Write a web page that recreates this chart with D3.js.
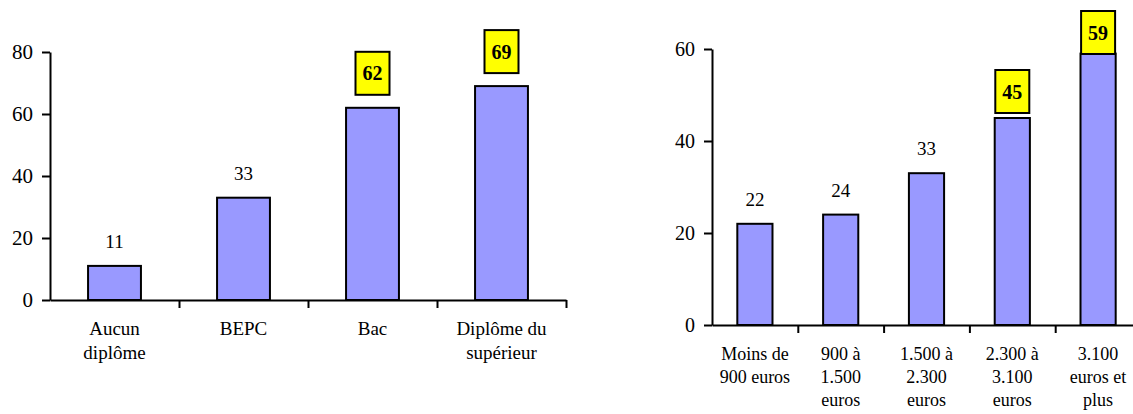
<!DOCTYPE html>
<html>
<head>
<meta charset="utf-8">
<script src="https://cdn.jsdelivr.net/npm/d3@7"></script>
<style>
  body { margin: 0; background: #fff; }
  svg { display: block; }
  svg text { font-family: "Times New Roman", "Liberation Serif", "DejaVu Serif", serif !important; fill: #000; }
  .axis path, .axis line { stroke: #000; stroke-width: 2px; }
</style>
</head>
<body>
<svg id="chart" width="1133" height="414"></svg>
<script>
// left panel : diplôme
var diplomaLabels = [["Aucun", "diplôme"], ["BEPC"], ["Bac"], ["Diplôme du", "supérieur"]];
var diplomaValues = [11, 33, 62, 69];
var diplomaHighlight = [false, false, true, true];
var diplomaTicks = [0, 20, 40, 60, 80];

// right panel : revenu
var incomeLabels = [["Moins de", "900 euros"], ["900 à", "1.500", "euros"], ["1.500 à", "2.300", "euros"], ["2.300 à", "3.100", "euros"], ["3.100", "euros et", "plus"]];
var incomeValues = [22, 24, 33, 45, 59];
var incomeHighlight = [false, false, false, true, true];
var incomeTicks = [0, 20, 40, 60];

var svg = d3.select('#chart');

function barPanel() {
  var
    left = 0, right = 0, top = 0, bottom = 0,
    yMax = 80,
    ticks = [],
    tickSize = 21,
    labelSize = 19,
    lineGap = 23.5,
    boxGap = 13,
    boxTop = 0;

  function chart(g, labels, values, hl) {
    var
      n = values.length,
      xEdge = d3.scaleLinear().domain([0, n]).range([left, right]),
      yScale = d3.scaleLinear().domain([0, yMax]).range([bottom, top]),
      band = xEdge(1) - xEdge(0),
      bw = band * 0.41;

    g.append('g')
      .attr('class', 'axis')
      .attr('transform', 'translate(' + left + ',0)')
      .call(d3.axisLeft(yScale).tickValues(ticks).tickSize(8).tickPadding(9).tickSizeOuter(0))
      .attr('font-size', tickSize);

    g.append('g')
      .attr('class', 'axis')
      .attr('transform', 'translate(0,' + bottom + ')')
      .call(d3.axisBottom(xEdge).tickValues(d3.range(1, n + 1)).tickSize(8).tickFormat('').tickSizeOuter(0));

    g.selectAll('rect.bar')
      .data(values)
      .enter().append('rect')
      .attr('class', 'bar')
      .attr('x', (d, i) => xEdge(i + 0.5) - bw / 2)
      .attr('y', d => yScale(d))
      .attr('width', bw)
      .attr('height', d => bottom - yScale(d))
      .attr('fill', '#9999ff')
      .attr('stroke', '#000')
      .attr('stroke-width', 2);

    // plain labels
    g.selectAll('text.val')
      .data(values.map((d, i) => ({v: d, i: i})).filter(d => !hl[d.i]))
      .enter().append('text')
      .attr('class', 'val')
      .attr('x', d => xEdge(d.i + 0.5))
      .attr('y', d => yScale(d.v) - 18)
      .attr('text-anchor', 'middle')
      .attr('font-size', 19)
      .text(d => d.v);

    // highlighted labels in yellow boxes
    var hls = values.map((d, i) => ({v: d, i: i})).filter(d => hl[d.i]);
    var bx = 34, bh = 43;
    var boxes = g.selectAll('g.hl').data(hls).enter().append('g').attr('class', 'hl')
      .attr('transform', d => {
        var y = Math.max(yScale(d.v) - boxGap - bh, boxTop);
        return 'translate(' + (xEdge(d.i + 0.5) - bx / 2) + ',' + y + ')';
      });
    boxes.append('rect')
      .attr('width', bx).attr('height', bh)
      .attr('fill', '#ffff00').attr('stroke', '#000').attr('stroke-width', 2);
    boxes.append('text')
      .attr('x', bx / 2).attr('y', bh / 2 + 7)
      .attr('text-anchor', 'middle')
      .attr('font-size', 20).attr('font-weight', 'bold')
      .text(d => d.v);

    // category labels
    var cats = g.selectAll('text.cat').data(labels).enter().append('text')
      .attr('class', 'cat')
      .attr('text-anchor', 'middle')
      .attr('font-size', labelSize);
    cats.selectAll('tspan').data((d, i) => d.map(s => ({s: s, i: i})))
      .enter().append('tspan')
      .attr('x', d => xEdge(d.i + 0.5))
      .attr('y', (d, j) => bottom + 35 + j * lineGap)
      .text(d => d.s);
  }

  chart.frame = function(l, r, t, b) { left = l; right = r; top = t; bottom = b; return chart; };
  chart.yMax = function(_) { yMax = _; return chart; };
  chart.ticks = function(_) { ticks = _; return chart; };
  chart.tickSize = function(_) { tickSize = _; return chart; };
  chart.labelSize = function(_) { labelSize = _; return chart; };
  chart.lineGap = function(_) { lineGap = _; return chart; };
  chart.boxGap = function(_) { boxGap = _; return chart; };
  chart.boxTop = function(_) { boxTop = _; return chart; };

  return chart;
}

barPanel().frame(50, 566, 52, 300).yMax(80).ticks(diplomaTicks).tickSize(21).labelSize(19).lineGap(24).boxGap(13)
  (svg.append('g'), diplomaLabels, diplomaValues, diplomaHighlight);

barPanel().frame(712, 1141, 49, 325).yMax(60).ticks(incomeTicks).tickSize(20).labelSize(18).lineGap(23).boxGap(5).boxTop(11)
  (svg.append('g'), incomeLabels, incomeValues, incomeHighlight);
</script>
</body>
</html>
